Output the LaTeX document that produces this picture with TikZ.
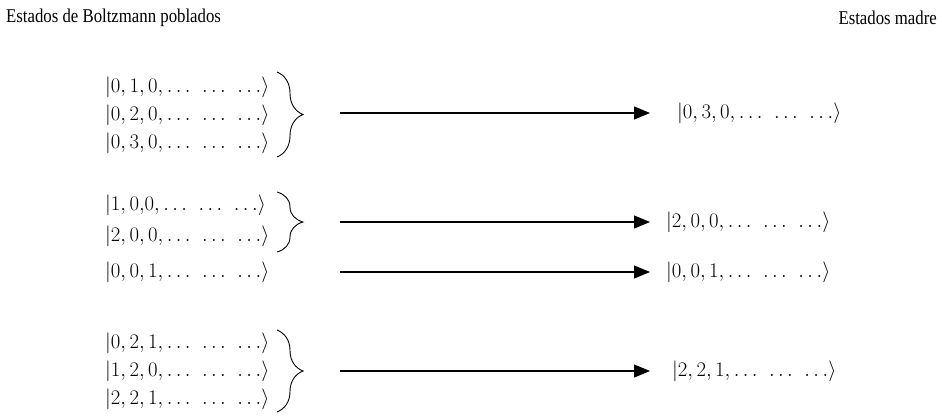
\documentclass[tikz,border=0pt]{standalone}
\usepackage{fontspec}
\setmainfont{Liberation Serif}[FakeStretch=0.86]
\usetikzlibrary{arrows.meta,decorations.pathreplacing}

\newcommand{\trip}{\ldots\mkern7mu\ldots\mkern7mu\ldots}

\begin{document}
\begin{tikzpicture}[
    x=1pt, y=-1pt,
    title/.style={anchor=west, inner sep=0pt, font=\fontsize{19.5}{22}\selectfont},
    ket/.style={anchor=west, inner sep=0pt, font=\fontsize{22}{26}\selectfont},
    curly/.style={decorate, decoration={brace, amplitude=26pt}, line width=0.9pt},
    arrow/.style={-{Triangle[length=16pt,width=13pt]}, line width=1.1pt}
]
\useasboundingbox (0,0) rectangle (942,416);

% Titles
\node[title] (pobl) at (6,18) {Estados de Boltzmann poblados};
\node[title, anchor=east] (madre) at (937,18) {Estados madre};

% First group
\node[ket] (l1a) at (105,87) {$|0, 1, 0, \trip\rangle$};
\node[ket] (l1b) at (105,115) {$|0, 2, 0, \trip\rangle$};
\node[ket] (l1c) at (105,143) {$|0, 3, 0, \trip\rangle$};

% Second group
\node[ket] (l2a) at (105,205) {$|1, 0{,}0, \trip\rangle$};
\node[ket] (l2b) at (105,236) {$|2, 0, 0, \trip\rangle$};
\node[ket] (l2c) at (105,272) {$|0, 0, 1, \trip\rangle$};

% Third group
\node[ket] (l3a) at (105,343) {$|0, 2, 1, \trip\rangle$};
\node[ket] (l3b) at (105,371) {$|1, 2, 0, \trip\rangle$};
\node[ket] (l3c) at (105,399) {$|2, 2, 1, \trip\rangle$};

% Mother states
\node[ket] (r1) at (677,113) {$|0, 3, 0, \trip\rangle$};
\node[ket] (r2a) at (666,222) {$|2, 0, 0, \trip\rangle$};
\node[ket] (r2b) at (666,272) {$|0, 0, 1, \trip\rangle$};
\node[ket] (r3) at (672,371) {$|2, 2, 1, \trip\rangle$};

% Braces
\draw[curly] (277,72) -- (277,157);
\draw[curly] (277,192) -- (277,252);
\draw[curly] (277,330) -- (277,412);

% Arrow ends
\coordinate (s1) at (340,113);
\coordinate (s2) at (340,222);
\coordinate (s3) at (340,272);
\coordinate (s4) at (340,371);
\coordinate (e1) at (650,113);
\coordinate (e2) at (650,222);
\coordinate (e3) at (650,272);
\coordinate (e4) at (650,371);

\draw[arrow] (s1) -- (e1);
\draw[arrow] (s2) -- (e2);
\draw[arrow] (s3) -- (e3);
\draw[arrow] (s4) -- (e4);

\end{tikzpicture}
\end{document}
